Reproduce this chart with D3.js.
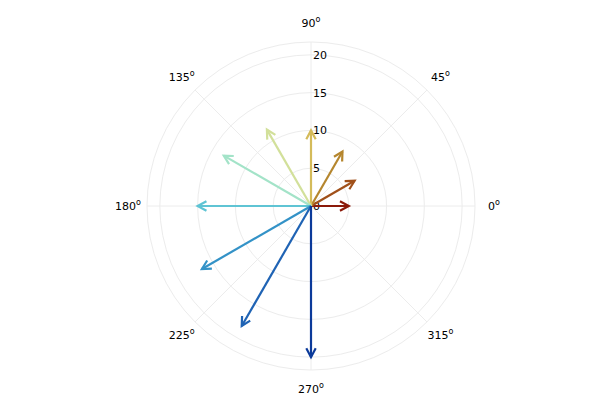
<!DOCTYPE html>
<html><head><meta charset="utf-8">
<script src="https://cdn.jsdelivr.net/npm/d3@7"></script>
<style>body{margin:0;background:#fff}svg{display:block}</style>
</head><body>
<svg id="c" width="600" height="400"></svg>
<script>
const anglesDeg = [0, 30, 60, 90, 120, 150, 180, 210, 240, 270];
const lengths = [5, 6.67, 8.33, 10, 11.67, 13.33, 15, 16.67, 18.33, 20];
const colors = ["#8b1a0a","#a0501a","#b5862e","#d4bb5a","#d2e09a","#a3e3c8","#5fc4d4","#3392c7","#1f63b4","#0b3a9a"];
const rTicks = [0, 5, 10, 15, 20];
const thetaTicks = [0, 45, 90, 135, 180, 225, 270, 315];

const svg = d3.select("#c");
const cx = 311, cy = 206, R = 164;
const r = d3.scaleLinear().domain([0, 21.7]).range([0, R]);
const th = d3.scaleLinear().domain([0, 360]).range([0, 2*Math.PI]);
const g = svg.append("g").attr("transform", `translate(${cx},${cy})`);
const px = (a, v) => r(v) * Math.cos(th(a));
const py = (a, v) => -r(v) * Math.sin(th(a));

// grid circles
g.selectAll("circle.grid").data(rTicks.filter(d => d > 0).concat([21.7])).enter()
  .append("circle").attr("r", d => r(d)).attr("fill", "none")
  .attr("stroke", "#ececec").attr("stroke-width", 1);
// spokes
g.selectAll("line.spoke").data(thetaTicks).enter().append("line")
  .attr("x1", 0).attr("y1", 0)
  .attr("x2", d => px(d, 21.7)).attr("y2", d => py(d, 21.7))
  .attr("stroke", "#ececec").attr("stroke-width", 1);

// angle labels
const lab = g.selectAll("text.ang").data(thetaTicks).enter().append("text")
  .attr("x", d => (R + 19) * Math.cos(th(d)))
  .attr("y", d => -(R + 19) * Math.sin(th(d)) + 4)
  .attr("text-anchor", "middle")
  .attr("font-family", "DejaVu Sans, sans-serif").attr("font-size", 11).attr("fill", "#000");
lab.append("tspan").text(d => d);
lab.append("tspan").attr("dy", -5).attr("font-size", 8).text("o");

// radial tick labels
g.selectAll("text.rt").data(rTicks).enter().append("text")
  .attr("x", 2).attr("y", d => -r(d) + 4)
  .attr("font-family", "DejaVu Sans, sans-serif").attr("font-size", 11).attr("fill", "#000")
  .text(d => d);

// arrows
const data = anglesDeg.map((a, i) => ({a, v: lengths[i], c: colors[i]}));
const arr = g.selectAll("g.arrow").data(data).enter().append("g");
arr.append("line").attr("x1", 0).attr("y1", 0)
  .attr("x2", d => px(d.a, d.v)).attr("y2", d => py(d.a, d.v))
  .attr("stroke", d => d.c).attr("stroke-width", 2.2);
const head = 10, spread = 28 * Math.PI / 180;
arr.append("path")
  .attr("d", d => {
    const x = px(d.a, d.v), y = py(d.a, d.v);
    const ang = Math.atan2(y, x);
    const x1 = x - head * Math.cos(ang - spread), y1 = y - head * Math.sin(ang - spread);
    const x2 = x - head * Math.cos(ang + spread), y2 = y - head * Math.sin(ang + spread);
    return `M${x1},${y1}L${x},${y}L${x2},${y2}`;
  })
  .attr("fill", "none").attr("stroke", d => d.c).attr("stroke-width", 2.2)
  .attr("stroke-linejoin", "miter");
</script>
</body></html>
